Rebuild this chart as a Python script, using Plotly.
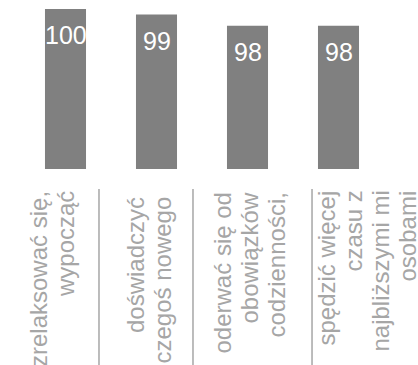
import plotly.graph_objects as go

categories = [
    "zrelaksować się,<br>wypocząć",
    "doświadczyć<br>czegoś nowego",
    "oderwać się od<br>obowiązków<br>codzienności,",
    "spędzić więcej<br>czasu z<br>najbliższymi mi<br>osobami",
]
values = [100, 99.3, 97.9, 97.9]
value_labels = ["100", "99", "98", "98"]

BAR = "#808080"
GRAY = "#a6a6a6"
FONT = "Liberation Sans, Arial, sans-serif"

xs = list(range(len(categories)))

fig = go.Figure(go.Bar(x=xs, y=values, marker=dict(color=BAR, line=dict(width=0)),
                       hoverinfo="skip"))

# value labels inside bar tops
for x, v, t in zip(xs, values, value_labels):
    fig.add_annotation(x=x, y=v, xref="x", yref="y", text=t, showarrow=False,
                       yanchor="top", xanchor="center", yshift=-10,
                       font=dict(family=FONT, size=25, color="white"))

# category labels (rotated, one annotation per wrapped line, tighter line spacing)
first_line_shift = [-27.5, -21.5, -25.5, -12.5]
label_drop = [0, -6, -2, 0]
LINE_STEP = 27
for x, c, s, d in zip(xs, categories, first_line_shift, label_drop):
    for j, line in enumerate(c.split("<br>")):
        fig.add_annotation(x=x, y=-0.125, xref="x", yref="paper", text=line,
                           showarrow=False, textangle=-90, xanchor="center",
                           yanchor="top", xshift=s + j * LINE_STEP, yshift=d,
                           font=dict(family=FONT, size=24, color=GRAY))

# separators
for sx in [0.368, 1.401, 2.709]:
    fig.add_shape(type="line", xref="x", yref="paper", x0=sx, x1=sx, y0=-0.125, y1=-1.3,
                  line=dict(color=GRAY, width=1.5))

fig.update_layout(
    width=418, height=365,
    margin=dict(l=20, r=34, t=9, b=196),
    paper_bgcolor="white", plot_bgcolor="white",
    bargap=0.549, showlegend=False,
    xaxis=dict(range=[-0.5, 3.5], showticklabels=False, showgrid=False, zeroline=False,
               showline=False, ticks=""),
    yaxis=dict(range=[80, 100], visible=False),
)

fig.write_html("out.html", config={"displayModeBar": False},
               post_script="document.body.style.margin='0px';")
